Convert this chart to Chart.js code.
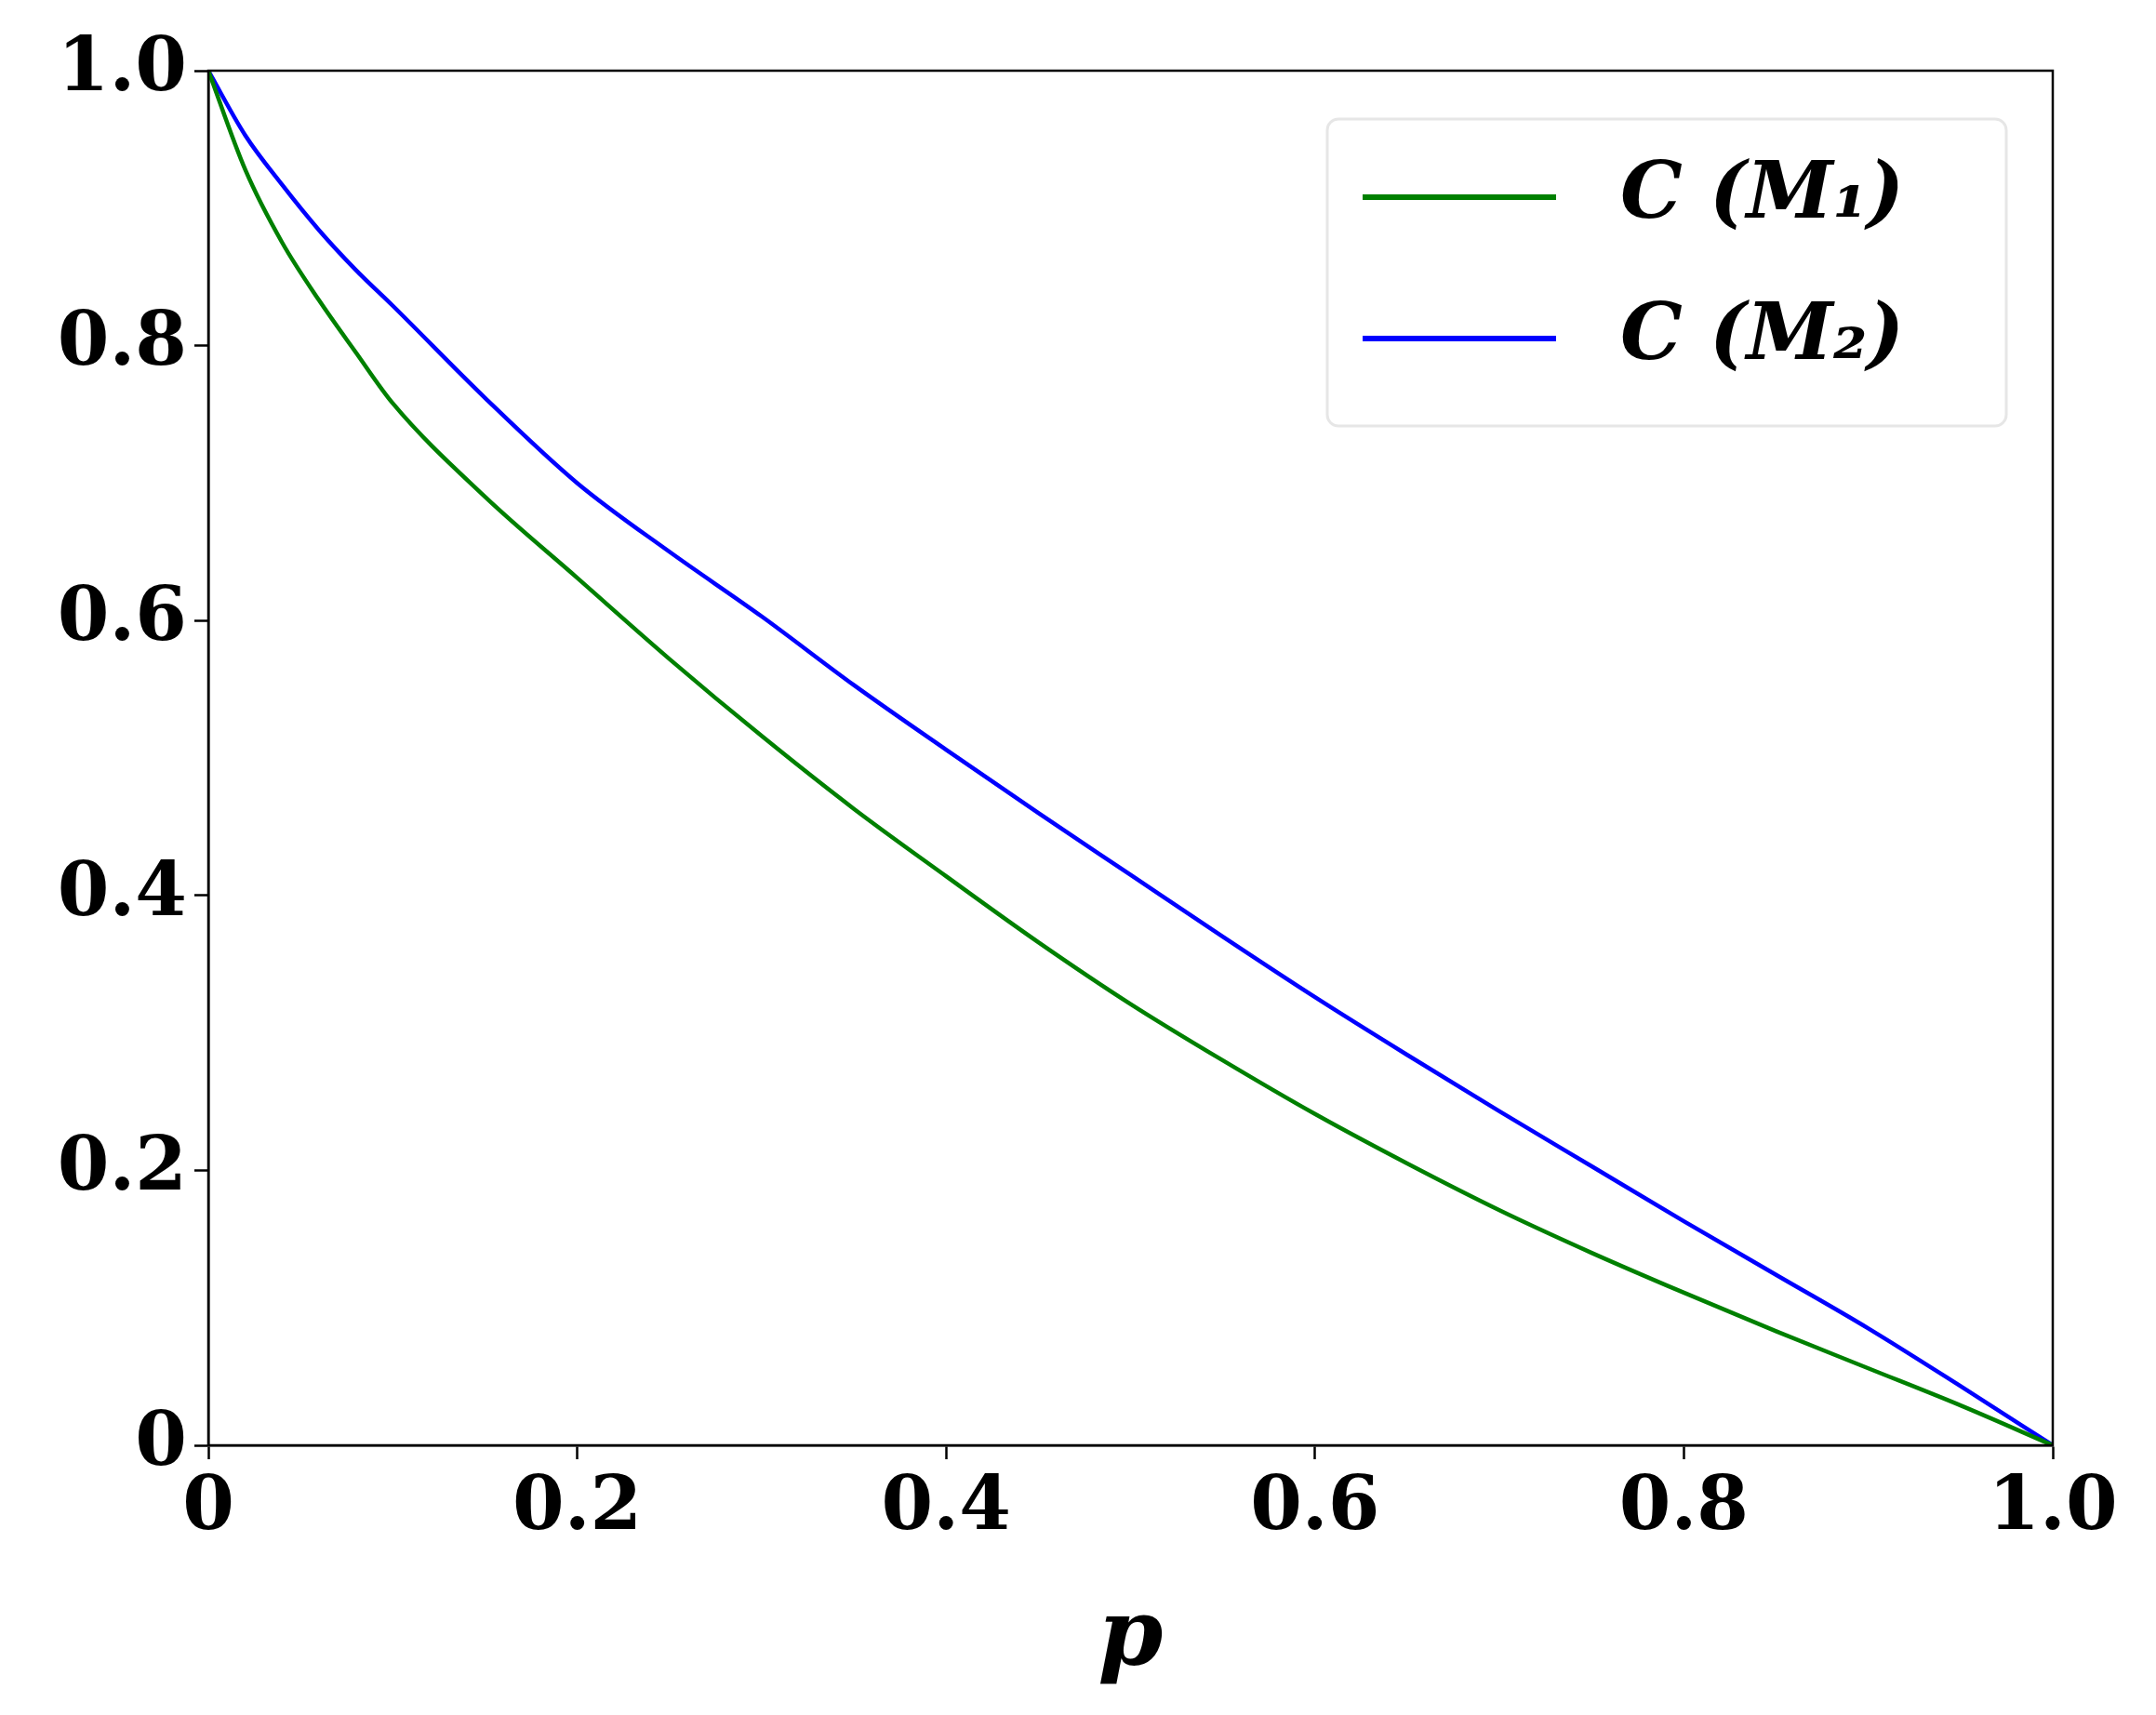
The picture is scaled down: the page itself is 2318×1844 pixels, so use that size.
<!DOCTYPE html>
<html><head><meta charset="utf-8">
<script src="https://cdn.jsdelivr.net/npm/chart.js@4"></script>
<style>html,body{margin:0;padding:0;background:#fff}#c{display:block}</style>
</head><body>
<div style="width:2318px;height:1844px"><canvas id="c"></canvas></div>
<script>
const pValues = [0,0.02,0.04,0.06,0.08,0.1,0.15,0.2,0.25,0.3,0.35,0.4,0.45,0.5,0.55,0.6,0.65,0.7,0.75,0.8,0.85,0.9,0.95,1.0];
const m1Values = [1,0.928,0.875,0.833,0.795,0.758,0.69,0.631,0.572,0.516,0.463,0.414,0.366,0.321,0.28,0.241,0.205,0.171,0.14,0.111,0.083,0.056,0.029,0];
const m2Values = [1,0.953,0.917,0.884,0.855,0.829,0.762,0.70,0.650,0.603,0.553,0.506,0.46,0.415,0.37,0.326,0.284,0.243,0.203,0.163,0.124,0.085,0.043,0];
const tickLabels = {0:"0",0.2:"0.2",0.4:"0.4",0.6:"0.6",0.8:"0.8",1:"1.0"};
const seriesNames = ["C (M₁)","C (M₂)"];
const colors = ["#008000","#0000ff"];
const tickFont = {family:"'DejaVu Serif'", weight:"bold", size:80};
const legendPlugin = {
  id:'legendBox',
  afterDraw(chart){
    const ctx=chart.ctx, a=chart.chartArea;
    const x0=a.right-780, y0=a.top+52, w=730, h=330;
    ctx.save();
    ctx.beginPath();
    ctx.roundRect(x0,y0,w,h,12);
    ctx.fillStyle='rgba(255,255,255,0.9)'; ctx.fill();
    ctx.strokeStyle='#e6e6e6'; ctx.lineWidth=3; ctx.stroke();
    seriesNames.forEach((n,i)=>{
      const yy=y0+84+i*152;
      ctx.strokeStyle=colors[i]; ctx.lineWidth=6;
      ctx.beginPath(); ctx.moveTo(x0+38,yy); ctx.lineTo(x0+246,yy); ctx.stroke();
      ctx.fillStyle='#000'; ctx.font="italic bold 84px 'DejaVu Serif'";
      ctx.textBaseline='middle'; ctx.fillText(n,x0+315,yy);
    });
    ctx.restore();
  }
};
const gridOpts = {display:true,drawOnChartArea:false,drawTicks:true,tickLength:15,tickColor:'#000',tickWidth:2.5};
new Chart(document.getElementById('c'),{
  type:'line',
  data:{datasets:[
    {data:pValues.map((p,i)=>({x:p,y:m1Values[i]})),borderColor:colors[0],borderWidth:4.5,pointRadius:0,cubicInterpolationMode:'monotone'},
    {data:pValues.map((p,i)=>({x:p,y:m2Values[i]})),borderColor:colors[1],borderWidth:4.5,pointRadius:0,cubicInterpolationMode:'monotone'}
  ]},
  options:{
    responsive:true,maintainAspectRatio:false,animation:false,
    layout:{padding:{top:76,right:111,left:0,bottom:0}},
    plugins:{legend:{display:false},tooltip:{enabled:false}},
    scales:{
      x:{type:'linear',min:0,max:1,
        afterFit(s){s.height=290;},
        grid:gridOpts,
        border:{color:'#000',width:2.5},
        ticks:{stepSize:0.2,color:'#000',font:tickFont,padding:6,maxRotation:0,callback:v=>tickLabels[Math.round(v*10)/10]},
        title:{display:true,text:'p',color:'#000',font:{family:"'DejaVu Serif'",style:'italic',weight:'bold',size:100},padding:{top:0,bottom:20}}
      },
      y:{min:0,max:1,
        afterFit(s){s.width=224;},
        grid:gridOpts,
        border:{color:'#000',width:2.5},
        ticks:{stepSize:0.2,color:'#000',font:tickFont,padding:8,callback:v=>tickLabels[Math.round(v*10)/10]}
      }
    }
  },
  plugins:[legendPlugin,{id:'frame',afterDraw(c){const a=c.chartArea,x=c.ctx;x.save();x.strokeStyle='#000';x.lineWidth=2.5;x.strokeRect(a.left,a.top,a.right-a.left,a.bottom-a.top);x.restore();}}]
});
</script>
</body></html>
